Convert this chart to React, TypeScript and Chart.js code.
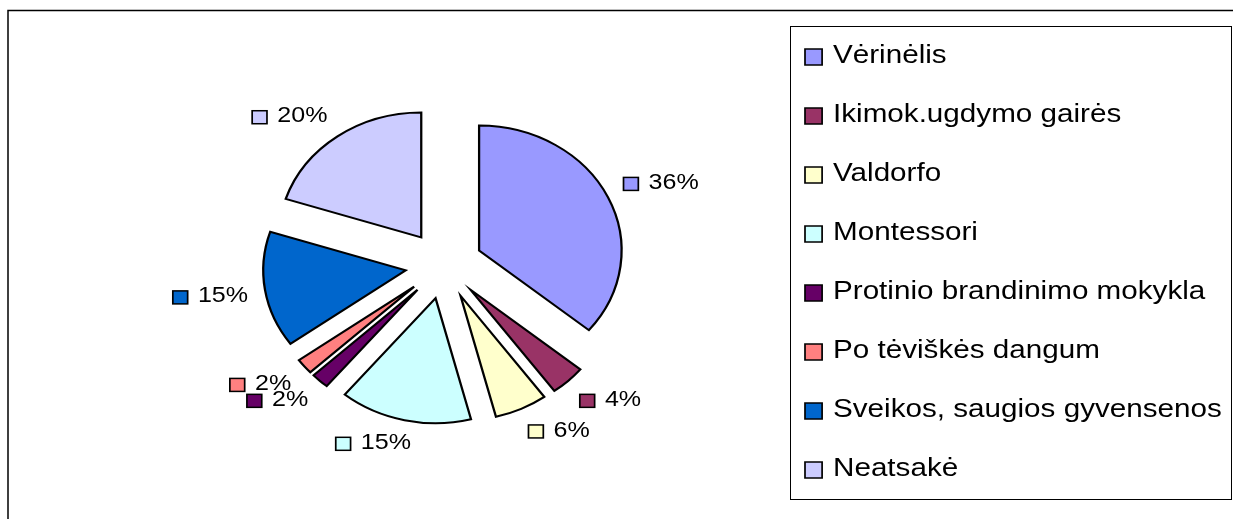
import React, { useEffect, useRef } from 'react';
import { Chart, registerables } from 'chart.js';

Chart.register(...registerables);

// ---- data ----
const categories = [
  'Vėrinėlis',
  'Ikimok.ugdymo gairės',
  'Valdorfo',
  'Montessori',
  'Protinio brandinimo mokykla',
  'Po tėviškės dangum',
  'Sveikos, saugios gyvensenos',
  'Neatsakė',
];
const shares = [36, 4, 6, 15, 2, 2, 15, 20];
const colors = ['#9999FF', '#993366', '#FFFFCC', '#CCFFFF', '#660066', '#FF8080', '#0066CC', '#CCCCFF'];

// ---- styling / layout ----
const SX = 1.14; // horizontal stretch of the reference picture
const EXPLODE = 34;
const RADIUS = 125;
const LABEL_R = 174;
const FONT = "'Liberation Sans', Arial, Helvetica, sans-serif";

const total = shares.reduce((a, b) => a + b, 0);
const pctLabel = (i: number) => Math.round((shares[i] / total) * 100) + '%';
const clamp1 = (v: number) => Math.max(-1, Math.min(1, v));

const decorPlugin = {
  id: 'pieDecor',
  beforeDraw(chart: any) {
    const ctx = chart.ctx as CanvasRenderingContext2D;
    ctx.save();
    ctx.fillStyle = '#fff';
    ctx.fillRect(0, 0, chart.width, chart.height);
    ctx.strokeStyle = '#000';
    ctx.lineWidth = 1.5;
    ctx.beginPath();
    ctx.moveTo(8, chart.height + 5);
    ctx.lineTo(8, 10.5);
    ctx.lineTo(chart.width + 5, 10.5);
    ctx.stroke();
    ctx.lineWidth = 1;
    ctx.strokeRect(790.5, 26.5, 441, 473);
    ctx.restore();
    ctx.save();
    ctx.scale(SX, 1);
  },
  beforeDatasetsDraw(chart: any) {
    const meta = chart.getDatasetMeta(0);
    meta.data.forEach((el: any) => {
      const mid = (el.startAngle + el.endAngle) / 2;
      el.$ox = el.x;
      el.$oy = el.y;
      el.x = el.x + Math.cos(mid) * EXPLODE;
      el.y = el.y + Math.sin(mid) * EXPLODE;
    });
  },
  afterDatasetsDraw(chart: any) {
    const ctx = chart.ctx as CanvasRenderingContext2D;
    const meta = chart.getDatasetMeta(0);
    meta.data.forEach((el: any) => {
      el.x = el.$ox;
      el.y = el.$oy;
    });
    ctx.save();
    ctx.font = `22px ${FONT}`;
    ctx.textBaseline = 'middle';
    meta.data.forEach((el: any, i: number) => {
      const mid = (el.startAngle + el.endAngle) / 2;
      const dx = Math.cos(mid);
      const dy = Math.sin(mid);
      const text = pctLabel(i);
      const tw = ctx.measureText(text).width;
      const sq = 13;
      const gap = 9;
      const w = sq + gap + tw;
      const h = 16;
      const cxl = el.x + dx * LABEL_R + (w / 2) * clamp1(dx / 0.3);
      const cyl = el.y + dy * LABEL_R + (h / 2) * clamp1(dy / 0.3);
      const gx = cxl - w / 2;
      const gy = cyl;
      ctx.fillStyle = colors[i];
      ctx.fillRect(gx, gy - sq / 2 + 1, sq, sq);
      ctx.lineWidth = 1.5;
      ctx.strokeStyle = '#000';
      ctx.strokeRect(gx, gy - sq / 2 + 1, sq, sq);
      ctx.fillStyle = '#000';
      ctx.fillText(text, gx + sq + gap, gy);
    });
    ctx.restore();
  },
  afterDraw(chart: any) {
    const ctx = chart.ctx as CanvasRenderingContext2D;
    ctx.font = `26px ${FONT}`;
    ctx.textBaseline = 'alphabetic';
    categories.forEach((c, i) => {
      const base = 63 + i * 59;
      const sx = 805 / SX;
      ctx.fillStyle = colors[i];
      ctx.fillRect(sx, base - 14, 15, 16);
      ctx.lineWidth = 1.5;
      ctx.strokeStyle = '#000';
      ctx.strokeRect(sx, base - 14, 15, 16);
      ctx.fillStyle = '#000';
      ctx.fillText(c, 833 / SX, base);
    });
    ctx.restore();
  },
};

export default function App() {
  const ref = useRef<HTMLCanvasElement | null>(null);
  useEffect(() => {
    if (!ref.current) return;
    const chart = new Chart(ref.current, {
      type: 'pie',
      data: {
        labels: categories,
        datasets: [
          {
            data: shares,
            backgroundColor: colors,
            borderColor: '#000',
            borderWidth: 2,
            borderJoinStyle: 'miter',
            radius: RADIUS,
            clip: false,
          } as any,
        ],
      },
      options: {
        responsive: false,
        animation: false,
        events: [],
        layout: { padding: { left: 0, right: 454, top: 11, bottom: 0 } },
        plugins: { legend: { display: false }, tooltip: { enabled: false } },
      } as any,
      plugins: [decorPlugin as any],
    });
    return () => chart.destroy();
  }, []);
  return (
    <div style={{ position: 'fixed', left: 0, top: 0, width: 1233, height: 519, background: '#fff' }}>
      <canvas ref={ref} width={1233} height={519} style={{ display: 'block' }} />
    </div>
  );
}
